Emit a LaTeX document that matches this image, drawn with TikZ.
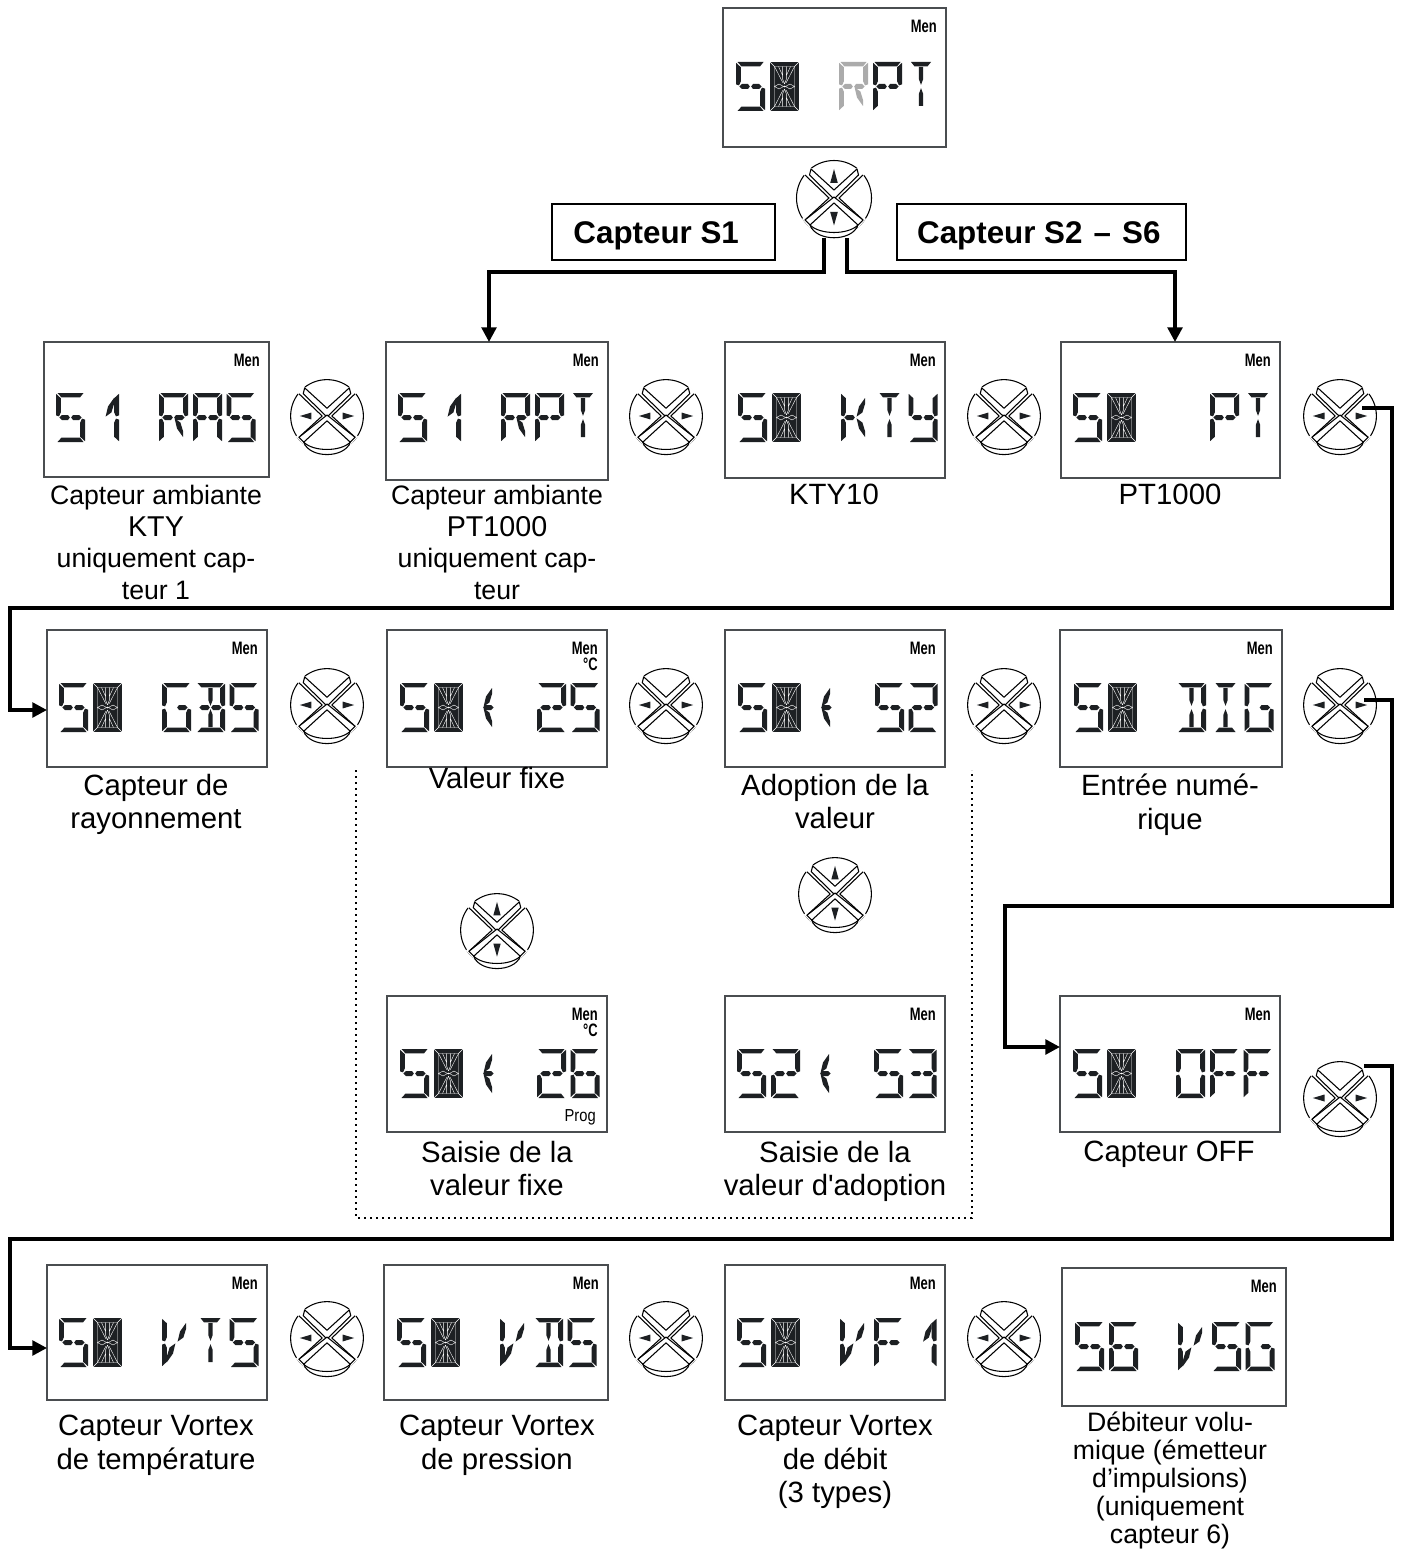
\documentclass[tikz,border=0pt]{standalone}
\usepackage{fontspec}
\setmainfont{Liberation Sans}[Ligatures=TeXOff]
\usetikzlibrary{arrows.meta,calc}
\definecolor{lcdink}{HTML}{1D2023}
\definecolor{framegray}{HTML}{4A4D50}
\tikzset{
 conn/.style={line width=2.6pt,draw=black,line join=miter},
 connarrow/.style={conn,-{Triangle[length=11pt,width=11pt]}},
 dotline/.style={line width=1.8pt,dash pattern=on 1.8pt off 2.7pt},
 lcdframe/.style={draw=framegray,line width=1.5pt,fill=white,inner sep=0pt,outer sep=0pt},
 btnspot/.style={circle,inner sep=0pt,outer sep=0pt,minimum size=54pt},
 btnline/.style={draw=black,line width=.8pt,line join=round},
 lbl/.style={align=center,font=\fontsize{22}{25}\selectfont,inner sep=0pt,anchor=north},
 lblsmall/.style={align=center,font=\fontsize{20}{21}\selectfont,inner sep=0pt,anchor=north},
 headbox/.style={draw=black,line width=1.3pt,fill=white,font=\fontsize{23.5}{28}\selectfont\bfseries,inner sep=0pt,outer sep=0pt},
 menlbl/.style={font=\fontsize{13.5}{14}\selectfont\bfseries,anchor=east,inner sep=0pt},
 proglbl/.style={font=\fontsize{13}{14}\selectfont,anchor=east,inner sep=0pt},
 pen/.style={fill=lcdink},
}
% segment shapes, in a cell 29 wide, 49 high (y downwards)
\def\segA{(1.5,0)--(27.5,0)--(24,4.4)--(5.5,4.4)--cycle}
\def\segD{(1.5,49)--(27.5,49)--(24,44.6)--(5.5,44.6)--cycle}
\def\segP{(4.5,0)--(24.5,0)--(21,4.4)--(8,4.4)--cycle}
\def\segQ{(4.5,49)--(24.5,49)--(21,44.6)--(8,44.6)--cycle}
\def\segF{(0,.8)--(4.8,5.2)--(4.8,19.5)--(3,23.4)--(0,22.4)--cycle}
\def\segE{(0,48.2)--(4.8,43.8)--(4.8,29.5)--(3,25.6)--(0,26.6)--cycle}
\def\segB{(29,.8)--(24.2,5.2)--(24.2,19.5)--(26,23.4)--(29,22.4)--cycle}
\def\segC{(29,48.2)--(24.2,43.8)--(24.2,29.5)--(26,25.6)--(29,26.6)--cycle}
\def\segG{(3.4,24.5)--(6,22)--(12,22)--(13.8,24.5)--(12,27)--(6,27)--cycle}
\def\segH{(25.6,24.5)--(23,22)--(17,22)--(15.2,24.5)--(17,27)--(23,27)--cycle}
\def\segJ{(12.3,5)--(16.7,5)--(16.7,17)--(14.5,22.8)--(12.3,17)--cycle}
\def\segM{(12.3,44)--(16.7,44)--(16.7,32)--(14.5,26.2)--(12.3,32)--cycle}
\def\segK{(15.6,23.6)--(18,13.5)--(24,5)--(24,11)--(21.4,19.5)--cycle}
\def\segN{(15.6,25.4)--(21.4,29.5)--(24,38)--(24,44)--(18,35.5)--cycle}
\def\segI{(13.4,23.6)--(11,13.5)--(5,5)--(5,11)--(7.6,19.5)--cycle}
\def\segL{(13.4,25.4)--(7.6,29.5)--(5,38)--(5,44)--(11,35.5)--cycle}
% characters as lists of segments
\def\cN{}
\def\cZ{ALL}
\def\cS{A,F,G,H,C,D}
\def\cOne{B,C,K}
\def\cTwo{A,B,G,H,E,D}
\def\cThree{A,B,G,H,C,D}
\def\cSix{A,F,G,H,E,C,D}
\def\cR{A,B,F,E,G,H,N}
\def\cA{A,B,C,E,F,G,H}
\def\cP{A,B,F,E,G,H}
\def\cT{P,J,M}
\def\cK{F,E,G,K,N}
\def\cY{F,B,G,H,C,D}
\def\cGG{A,F,E,D,C,H}
\def\cBB{A,B,C,D,J,M,G,H}
\def\cDD{A,B,C,D,J,M}
\def\cI{P,Q,J,M}
\def\cV{F,E,K,L}
\def\cF{A,F,E,G,H}
\def\cO{A,B,C,D,E,F}
\def\cLess{K,N,H}
\def\dofill#1{\fill[pen] #1;}
% one character
\newcommand\lcdchar[3]{%
 \begin{scope}[shift={(#1,#2)}]
 \ifx#3\cN\else\ifx#3\cZ
  \fill[lcdink] (0,0) rectangle (29,49);
  \draw[white,line width=.3pt] (0,0)--(4.5,4.5)--(24.5,4.5)--(29,0) (0,49)--(4.5,44.5)--(24.5,44.5)--(29,49)
   (4.5,4.5)--(4.5,44.5) (24.5,4.5)--(24.5,44.5)
   (12.6,4.5)--(12.6,17)--(14.5,22) (16.4,4.5)--(16.4,17)--(14.5,22)
   (12.6,44.5)--(12.6,32)--(14.5,27) (16.4,44.5)--(16.4,32)--(14.5,27)
   (4.5,4.5)--(13,21) (24.5,4.5)--(16,21) (4.5,44.5)--(13,28) (24.5,44.5)--(16,28)
   (8.5,4.5)--(12.4,13) (20.5,4.5)--(16.6,13) (8.5,44.5)--(12.4,36) (20.5,44.5)--(16.6,36)
   (4.5,24.5)--(9,22)--(13.6,24.5)--(9,27)--cycle
   (24.5,24.5)--(20,22)--(15.4,24.5)--(20,27)--cycle;
  \fill[white] (14.5,24.5) circle (.9);
 \else
  \foreach \s in #3 {\expandafter\expandafter\expandafter\dofill\expandafter\expandafter\expandafter{\csname seg\s\endcsname}}
 \fi\fi
 \end{scope}}
% six-position display: left, top, then characters
\newcommand\lcdrow[8]{%
 \lcdchar{#1}{#2}{#3}\lcdchar{#1+34}{#2}{#4}\lcdchar{#1+68}{#2}{#5}%
 \lcdchar{#1+103}{#2}{#6}\lcdchar{#1+137}{#2}{#7}\lcdchar{#1+170.5}{#2}{#8}}
% frame: name, left, top, right, bottom
\newcommand\lcdframebox[5]{%
 \pgfmathsetmacro\fwd{(#4-#2)*.75}\pgfmathsetmacro\fht{(#5-#3)*.75}%
 \node[lcdframe,minimum width=\fwd pt,minimum height=\fht pt] (#1) at ({(#2+#4)/2},{(#3+#5)/2}) {};
 \node[menlbl] (#1men) at (#4-9,#3+18) {\scalebox{.72}[1]{Men}};}
% button: kind 0 = left/right, 1 = up/down
\newcommand\btnbody[1]{%
 \draw[btnline] (0,0) circle (37.5);
 \fill[white] (-31,-24)--(-24,-31)--(0,-7)--(-7,0)--cycle (31,-24)--(24,-31)--(0,-7)--(7,0)--cycle
   (-32,21)--(-24,30)--(0,6)--(-6,0)--cycle (32,21)--(24,30)--(0,6)--(6,0)--cycle;
 \draw[btnline] (-23,-29)--(0,-8)--(23,-29)--(24.5,-23)--(0,1)--(-24.5,-23)--cycle;
 \draw[btnline] (-29,-23)--(-5,0)--(-29,22);
 \draw[btnline] (29,-23)--(5,0)--(29,22);
 \fill[white] (-24,27) .. controls (-18,44) and (18,44) .. (24,27)--cycle;
 \draw[btnline,fill=white] (-29,22)--(-24,27)--(0,5)--(24,27)--(29,22)--(0,-1)--cycle;
 \draw[btnline] (-24,27) .. controls (-18,44) and (18,44) .. (24,27);
 \draw[btnline] (-24,27) .. controls (-14,37) and (14,37) .. (24,27);
 \ifnum#1=1
  \fill[lcdink] (0,-29)--(3.8,-15)--(-3.8,-15)--cycle (0,27.5)--(3.8,14)--(-3.8,14)--cycle;
 \else
  \fill[lcdink] (-28,0)--(-16,-3.6)--(-16,3.6)--cycle (28,0)--(16,-3.6)--(16,3.6)--cycle;
 \fi}
\newcommand\btn[5]{%
 \node[btnspot] (#1) at (#2,#3) {};
 \begin{scope}[shift={(#2,#3)},scale=#5]\btnbody{#4}\end{scope}}
\begin{document}
\begin{tikzpicture}[x=.75pt,y=-.75pt]
\useasboundingbox (0,0) rectangle (1402,1551);
\fill[white] (0,0) rectangle (1402,1551);
% dotted enclosure
\coordinate (da) at (356,770); \coordinate (db) at (356,1218);
\coordinate (dc) at (972,1218); \coordinate (dd) at (972,770);
\draw[dotline] (da)--(db)--(dc)--(dd);
% frames
\lcdframebox{top}{723}{8}{946}{147}
\lcdframebox{aa}{44}{342}{269}{477}
\lcdframebox{ab}{386}{342}{608}{480}
\lcdframebox{ac}{725}{342}{945}{478}
\lcdframebox{ad}{1061}{342}{1280}{478}
\lcdframebox{ba}{47}{630}{267}{767}
\lcdframebox{bb}{387}{630}{607}{767}
\lcdframebox{bc}{725}{630}{945}{767}
\lcdframebox{bd}{1060}{630}{1282}{767}
\lcdframebox{cb}{387}{996}{607}{1132}
\lcdframebox{cc}{725}{996}{945}{1132}
\lcdframebox{cd}{1060}{996}{1280}{1132}
\lcdframebox{fa}{47}{1265}{267}{1400}
\lcdframebox{fb}{384}{1265}{608}{1400}
\lcdframebox{fc}{725}{1265}{945}{1400}
\lcdframebox{fd}{1062}{1268}{1286}{1406}
\node[menlbl] (bbc) at (598,664) {\scalebox{.72}[1]{°C}};
\node[menlbl] (cbc) at (598,1030) {\scalebox{.72}[1]{°C}};
\node[proglbl] (prog) at (596,1117) {\scalebox{.85}[1]{Prog}};
% displays
\lcdrow{736}{62}{\cS}{\cZ}{\cN}{\cN}{\cP}{\cT}
\begin{scope}[pen/.style={fill=black!33}]\lcdchar{839}{62}{\cR}\end{scope}
\lcdrow{56}{393}{\cS}{\cOne}{\cN}{\cR}{\cA}{\cS}
\lcdrow{398}{393}{\cS}{\cOne}{\cN}{\cR}{\cP}{\cT}
\lcdrow{738}{393}{\cS}{\cZ}{\cN}{\cK}{\cT}{\cY}
\lcdrow{1073}{393}{\cS}{\cZ}{\cN}{\cN}{\cP}{\cT}
\lcdrow{59}{683}{\cS}{\cZ}{\cN}{\cGG}{\cBB}{\cS}
\lcdrow{400}{683}{\cS}{\cZ}{\cLess}{\cN}{\cTwo}{\cS}
\lcdrow{738}{683}{\cS}{\cZ}{\cLess}{\cN}{\cS}{\cTwo}
\lcdrow{1074}{683}{\cS}{\cZ}{\cN}{\cDD}{\cI}{\cGG}
\lcdrow{400}{1049}{\cS}{\cZ}{\cLess}{\cN}{\cTwo}{\cSix}
\lcdrow{737}{1049}{\cS}{\cTwo}{\cLess}{\cN}{\cS}{\cThree}
\lcdrow{1073}{1049}{\cS}{\cZ}{\cN}{\cO}{\cF}{\cF}
\lcdrow{59}{1318}{\cS}{\cZ}{\cN}{\cV}{\cT}{\cS}
\lcdrow{397}{1318}{\cS}{\cZ}{\cN}{\cV}{\cDD}{\cS}
\lcdrow{737}{1318}{\cS}{\cZ}{\cN}{\cV}{\cF}{\cOne}
\lcdrow{1075}{1322}{\cS}{\cSix}{\cN}{\cV}{\cS}{\cGG}
% buttons
\btn{bmain}{834}{198}{1}{1}
\btn{btna}{327}{416}{0}{.97}
\btn{btnb}{666}{416}{0}{.97}
\btn{btnc}{1004}{416}{0}{.97}
\btn{btnd}{1340}{416}{0}{.97}
\btn{btne}{327}{705}{0}{.97}
\btn{btnf}{666}{705}{0}{.97}
\btn{btng}{1004}{705}{0}{.97}
\btn{btnh}{1340}{705}{0}{.97}
\btn{btni}{497}{930}{1}{.97}
\btn{btnj}{835}{894}{1}{.97}
\btn{btnk}{1340}{1098}{0}{.97}
\btn{btnl}{327}{1338}{0}{.97}
\btn{btnm}{666}{1338}{0}{.97}
\btn{btnn}{1004}{1338}{0}{.97}
% header boxes
\node[headbox,minimum width=167pt,minimum height=42pt] (capa) at (663.5,232) {\rule{0pt}{21.5pt}Capteur S1\hspace*{11pt}};
\node[headbox,minimum width=217pt,minimum height=42pt] (capb) at (1041.5,232) {\rule{0pt}{21.5pt}Capteur S2\hspace{1.8pt} – \hspace{1.8pt}S6\hspace*{4pt}};
% connectors
\coordinate (s1) at (824,238); \coordinate (s1t) at (489,272);
\coordinate (s2) at (847,238); \coordinate (s2t) at (1175,272);
\draw[connarrow] (s1)|-(s1t)--(s1t |- ab.north);
\draw[connarrow] (s2)|-(s2t)--(s2t |- ad.north);
\coordinate (r1) at (1362,408); \coordinate (r1a) at (1392,608); \coordinate (r1b) at (10,608); \coordinate (r1c) at (10,710);
\draw[connarrow] (r1)-|(r1a)--(r1b)--(r1c)--(r1c -| ba.west);
\coordinate (r2) at (1364,700); \coordinate (r2a) at (1392,906); \coordinate (r2b) at (1005,906); \coordinate (r2c) at (1005,1047);
\draw[connarrow] (r2)-|(r2a)--(r2b)--(r2c)--(r2c -| cd.west);
\coordinate (r3) at (1364,1066); \coordinate (r3a) at (1392,1239); \coordinate (r3b) at (10,1239); \coordinate (r3c) at (10,1348);
\draw[connarrow] (r3)-|(r3a)--(r3b)--(r3c)--(r3c -| fa.west);
% labels
\node[lblsmall] (la) at (156,485) {Capteur ambiante\\[2.7pt]{\fontsize{21.5}{24}\selectfont KTY}\\[2.5pt]uniquement cap-\\[2.7pt]teur 1};
\node[lblsmall] (lb) at (497,485) {Capteur ambiante\\[2.7pt]{\fontsize{21.5}{24}\selectfont PT1000}\\[2.5pt]uniquement cap-\\[2.7pt]teur};
\node[lbl] (lc) at (834,484) {KTY10};
\node[lbl] (ld) at (1170,484) {PT1000};
\node[lbl] (le) at (156,774) {Capteur de\\rayonnement};
\node[lbl] (lf) at (497,767) {Valeur fixe};
\node[lbl] (lg) at (835,774) {Adoption de la\\valeur};
\node[lbl] (lh) at (1170,774) {Entrée numé-\\rique};
\node[lbl] (li) at (497,1141) {Saisie de la\\valeur fixe};
\node[lbl] (lj) at (835,1141) {Saisie de la\\valeur d'adoption};
\node[lbl] (lk) at (1169,1141) {Capteur OFF};
\node[lbl] (ll) at (156,1415) {Capteur Vortex\\de température};
\node[lbl] (lm) at (497,1415) {Capteur Vortex\\de pression};
\node[lbl] (ln) at (835,1415) {Capteur Vortex\\de débit\\(3 types)};
\node[lblsmall] (lo) at (1170,1412) {Débiteur volu-\\mique (émetteur\\d’impulsions)\\(uniquement\\capteur 6)};
\end{tikzpicture}
\end{document}
